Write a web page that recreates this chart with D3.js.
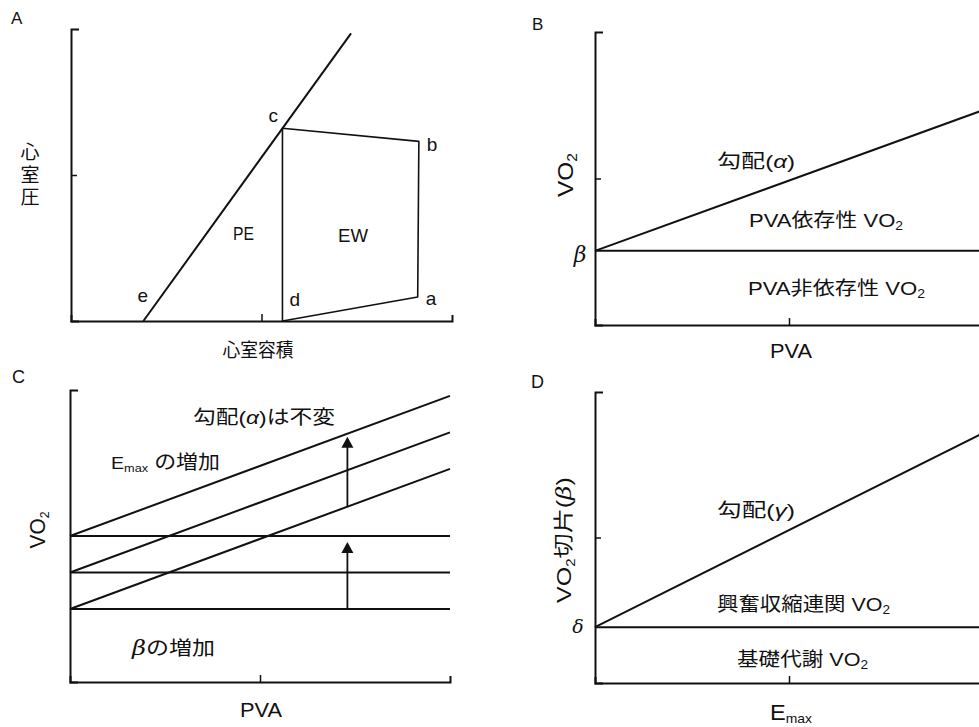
<!DOCTYPE html>
<html>
<head>
<meta charset="utf-8">
<script src="https://cdn.jsdelivr.net/npm/d3@7"></script>
<style>
  html, body { margin: 0; padding: 0; background: #fff; }
  svg { display: block; }
</style>
</head>
<body>
<svg id="fig" width="979" height="727"></svg>
<script>
// ---- data -------------------------------------------------------------
// A: pressure-volume loop (relative units, 0-100 on both axes)
const pvCorners  = ["c", "b", "a", "d"];
const pvVolume   = [55.5, 91.3, 91.0, 55.5];
const pvPressure = [66.0, 61.5, 8.2, 0.0];
const espvrVolume   = [19.0, 73.5];   // point e, then the top end of the line
const espvrPressure = [0.0, 98.5];

// B: VO2 = alpha * PVA + beta
const pvaRange   = [0, 100];
const alphaSlope = 0.48;
const betaB      = 25.3;

// C: three intercept levels, same slope, arrows at one PVA
const betaLevels = [25, 37.5, 50];
const arrowPVA   = 73;

// D: VO2 intercept = gamma * Emax + delta
const emaxRange  = [0, 100];
const gammaSlope = 0.667;
const deltaD     = 19.2;

// axis ticks (relative units)
const midTick = [50];

// ---- helpers ----------------------------------------------------------
const FONT = "'Liberation Sans', Arial, 'Noto Sans CJK JP', sans-serif";
const SERIF = "'DejaVu Serif', 'Liberation Serif', serif";
const INK = "#111";
const svg = d3.select("#fig");

function label(g, x, y, parts, opt = {}) {
  const t = g.append("text")
    .attr("x", x).attr("y", y)
    .attr("font-family", FONT)
    .attr("font-size", opt.size || 18)
    .attr("fill", INK)
    .attr("text-anchor", opt.anchor || "start");
  if (opt.rotate) t.attr("transform", `rotate(${opt.rotate},${x},${y})`);
  let shift = 0;
  parts.forEach(p => {
    const s = typeof p === "string" ? { t: p } : p;
    const ts = t.append("tspan").text(s.t);
    let dy = -shift;
    shift = 0;
    if (s.sub) { ts.attr("font-size", s.sub); shift = s.dy || 4; dy += shift; }
    if (dy) ts.attr("dy", dy);
    if (s.size) ts.attr("font-size", s.size);
    if (s.italic) ts.attr("font-style", "italic");
    if (s.font) ts.attr("font-family", s.font);
  });
  if (opt.w) t.attr("textLength", opt.w).attr("lengthAdjust", "spacingAndGlyphs");
  return t;
}

function axes(g, x, y, yTicks, xTicks) {
  const ya = g.append("g").attr("transform", `translate(${x.range()[0]},0)`)
    .call(d3.axisLeft(y).tickValues(yTicks).tickSize(-6).tickSizeOuter(-8).tickFormat(""));
  const xa = g.append("g").attr("transform", `translate(0,${y.range()[0]})`)
    .call(d3.axisBottom(x).tickValues(xTicks).tickSize(-7).tickSizeOuter(-6).tickFormat(""));
  [ya, xa].forEach(a => {
    a.select(".domain").attr("stroke", INK).attr("stroke-width", 2);
    a.selectAll(".tick line").attr("stroke", INK).attr("stroke-width", 1.5);
  });
}

function path(g, pts, x, y, w = 2) {
  return g.append("path")
    .attr("d", d3.line().x(d => x(d[0])).y(d => y(d[1]))(pts))
    .attr("fill", "none").attr("stroke", INK)
    .attr("stroke-width", w).attr("stroke-linejoin", "round");
}

function arrowHead(g, px, py) {
  g.append("path")
    .attr("d", `M${px},${py} L${px - 6},${py + 11} L${px + 6},${py + 11} Z`)
    .attr("fill", INK);
}

// ---- A: pressure-volume diagram --------------------------------------
{
  const g = svg.append("g");
  const x = d3.scaleLinear().domain([0, 100]).range([71, 452]);
  const y = d3.scaleLinear().domain([0, 100]).range([321, 29]);
  axes(g, x, y, midTick, midTick);

  path(g, d3.zip(espvrVolume, espvrPressure), x, y, 2);
  const loop = d3.zip(pvVolume, pvPressure);
  path(g, [...loop, loop[0]], x, y, 1.6);

  const offs = { c: [-14, -6], b: [8, 10], a: [8, 8], d: [7, -15] };
  pvCorners.forEach((k, i) => {
    label(g, x(pvVolume[i]) + offs[k][0], y(pvPressure[i]) + offs[k][1], [k], { size: 19 });
  });
  label(g, x(espvrVolume[0]) - 6, y(espvrPressure[0]) - 19, ["e"], { size: 19 });

  label(g, 233, 240, ["PE"], { size: 19, w: 21 });
  label(g, 338, 242, ["EW"], { size: 19, w: 30 });

  label(g, 258, 357, ["心室容積"], { size: 19, anchor: "middle", w: 71 });
  ["心", "室", "圧"].forEach((ch, i) =>
    label(g, 30, 159 + i * 22.5, [ch], { size: 19, anchor: "middle" }));

  label(g, 11, 24, ["A"], { size: 17 });
}

// ---- B: VO2 vs PVA ---------------------------------------------------
{
  const g = svg.append("g");
  const x = d3.scaleLinear().domain(pvaRange).range([595, 983]);
  const y = d3.scaleLinear().domain([0, 100]).range([325, 32]);
  axes(g, x, y, midTick, midTick);

  path(g, pvaRange.map(p => [p, betaB + alphaSlope * p]), x, y, 2);
  path(g, pvaRange.map(p => [p, betaB]), x, y, 2);

  label(g, 717, 168, ["勾配(", { t: "α", italic: true }, ")"], { size: 19, w: 78 });
  label(g, 749, 227, ["PVA依存性 VO", { t: "2", sub: 12, dy: 3 }], { size: 19, w: 154 });
  label(g, 748, 295, ["PVA非依存性 VO", { t: "2", sub: 12, dy: 3 }], { size: 19, w: 177 });
  label(g, 580, y(betaB) + 11, [{ t: "β", italic: true, font: SERIF }], { size: 22, anchor: "middle" });

  label(g, 791, 358, ["PVA"], { size: 20, anchor: "middle", w: 42 });
  label(g, 573, 175, ["VO", { t: "2", sub: 14, dy: 4 }], { size: 22, anchor: "middle", rotate: -90, w: 44 });

  label(g, 532, 30, ["B"], { size: 17 });
}

// ---- C: shifts of the VO2-PVA line ----------------------------------
{
  const g = svg.append("g");
  const x = d3.scaleLinear().domain(pvaRange).range([70, 450]);
  const y = d3.scaleLinear().domain([0, 100]).range([682, 390]);
  axes(g, x, y, [], midTick);

  betaLevels.forEach(b => {
    path(g, pvaRange.map(p => [p, b + alphaSlope * p]), x, y, 2);
    path(g, pvaRange.map(p => [p, b]), x, y, 2);
  });

  const lo = betaLevels[0], hi = betaLevels[betaLevels.length - 1];
  const ax = x(arrowPVA);
  // sloped-line shift (Emax increase)
  const s0 = y(lo + alphaSlope * arrowPVA), s1 = y(hi + alphaSlope * arrowPVA) + 3;
  g.append("line").attr("x1", ax).attr("x2", ax).attr("y1", s0).attr("y2", s1 + 8)
    .attr("stroke", INK).attr("stroke-width", 1.8);
  arrowHead(g, ax, s1);
  // intercept shift (beta increase)
  const b0 = y(lo), b1 = y(hi) + 6;
  g.append("line").attr("x1", ax).attr("x2", ax).attr("y1", b0).attr("y2", b1 + 8)
    .attr("stroke", INK).attr("stroke-width", 1.8);
  arrowHead(g, ax, b1);

  label(g, 193, 424, ["勾配(", { t: "α", italic: true }, ")は不変"], { size: 19, w: 142 });
  label(g, 111, 469, [{ t: "E", size: 17 }, { t: "max", sub: 11, dy: 3 }, " の増加"], { size: 19, w: 109 });
  label(g, 132, 655, [{ t: "β", italic: true, font: SERIF, size: 20 }, "の増加"], { size: 19, w: 83 });

  label(g, 261, 717, ["PVA"], { size: 20, anchor: "middle", w: 42 });
  label(g, 45, 530, ["VO", { t: "2", sub: 13, dy: 4 }], { size: 22, anchor: "middle", rotate: -90, w: 37 });

  label(g, 12, 383, ["C"], { size: 18 });
}

// ---- D: VO2 intercept vs Emax ---------------------------------------
{
  const g = svg.append("g");
  const x = d3.scaleLinear().domain(emaxRange).range([595, 983]);
  const y = d3.scaleLinear().domain([0, 100]).range([683, 392]);
  axes(g, x, y, midTick, midTick);

  path(g, emaxRange.map(e => [e, deltaD + gammaSlope * e]), x, y, 2);
  path(g, emaxRange.map(e => [e, deltaD]), x, y, 2);

  label(g, 717, 517, ["勾配(", { t: "γ", italic: true }, ")"], { size: 19, w: 78 });
  label(g, 717, 611, ["興奮収縮連関 VO", { t: "2", sub: 12, dy: 3 }], { size: 19, w: 173 });
  label(g, 737, 666, ["基礎代謝 VO", { t: "2", sub: 12, dy: 3 }], { size: 19, w: 131 });
  label(g, 578, y(deltaD) + 6, [{ t: "δ", italic: true, font: SERIF }], { size: 19, anchor: "middle" });

  label(g, 770, 720, [{ t: "E", size: 22 }, { t: "max", sub: 13, dy: 3 }], { size: 22, w: 42 });
  label(g, 571, 540, ["VO", { t: "2", sub: 12, dy: 4 }, "切片(", { t: "β", italic: true, font: SERIF }, ")"],
    { size: 20, anchor: "middle", rotate: -90, w: 126 });

  label(g, 531, 388, ["D"], { size: 18 });
}
</script>
</body>
</html>
